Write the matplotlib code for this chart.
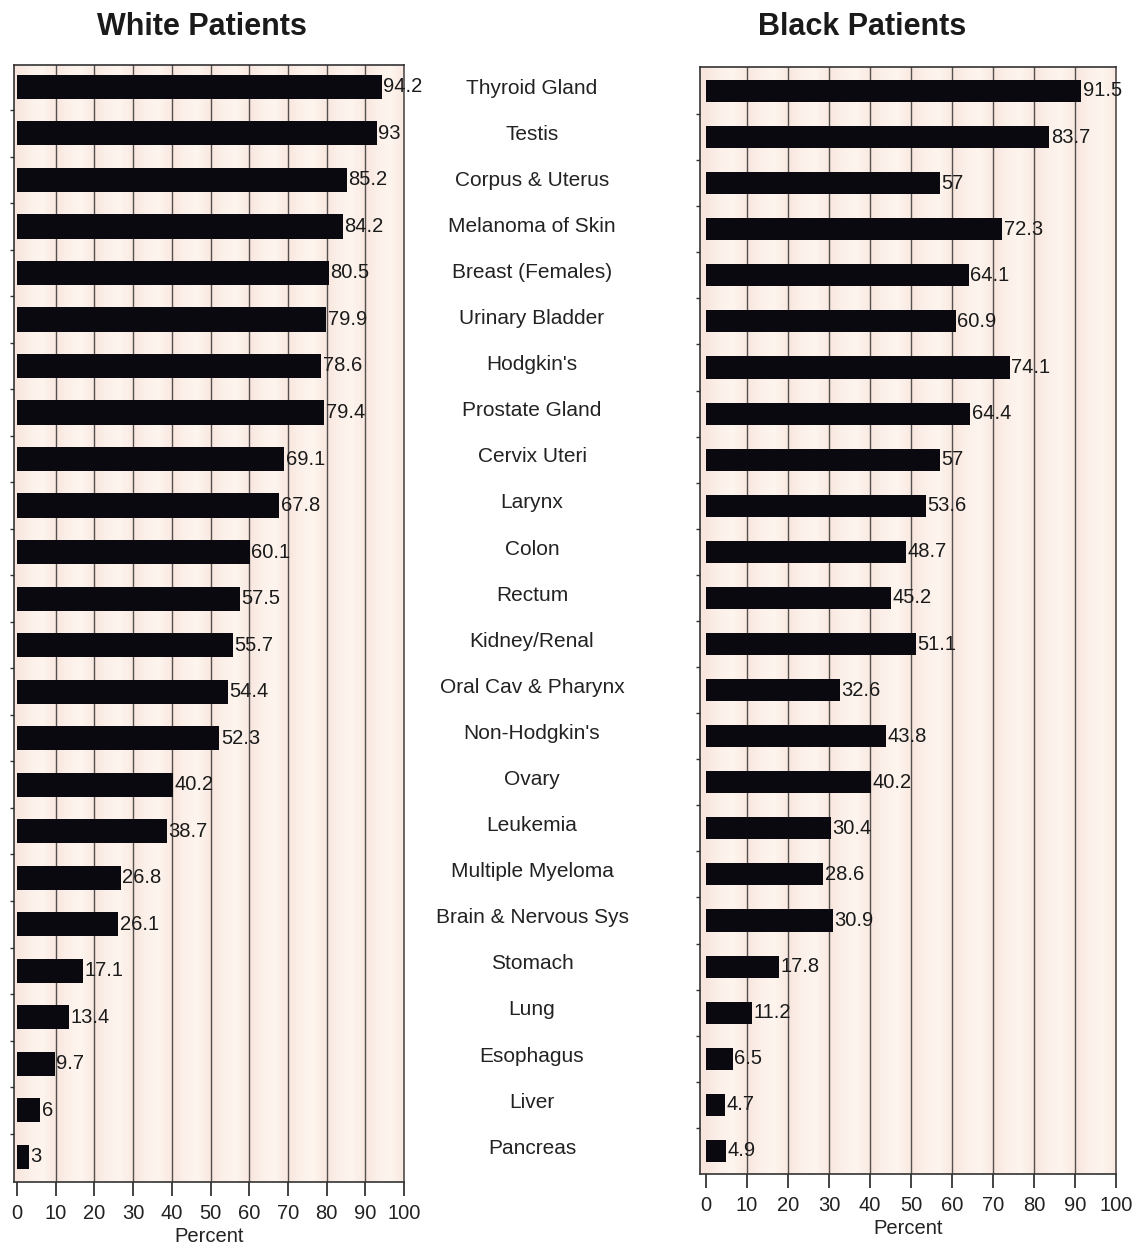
#!/usr/bin/env python3
"""Five-year relative survival by cancer site, white vs black patients."""

import matplotlib

matplotlib.use("Agg")
import matplotlib.pyplot as plt
import numpy as np
from matplotlib.colors import LinearSegmentedColormap
from matplotlib.transforms import blended_transform_factory

plt.rcParams["font.family"] = ["Liberation Sans", "DejaVu Sans"]

SITES = [
    "Thyroid Gland", "Testis", "Corpus & Uterus", "Melanoma of Skin",
    "Breast (Females)", "Urinary Bladder", "Hodgkin's", "Prostate Gland",
    "Cervix Uteri", "Larynx", "Colon", "Rectum", "Kidney/Renal",
    "Oral Cav & Pharynx", "Non-Hodgkin's", "Ovary", "Leukemia",
    "Multiple Myeloma", "Brain & Nervous Sys", "Stomach", "Lung",
    "Esophagus", "Liver", "Pancreas",
]
WHITE = [94.2, 93, 85.2, 84.2, 80.5, 79.9, 78.6, 79.4, 69.1, 67.8, 60.1, 57.5,
         55.7, 54.4, 52.3, 40.2, 38.7, 26.8, 26.1, 17.1, 13.4, 9.7, 6, 3]
BLACK = [91.5, 83.7, 57, 72.3, 64.1, 60.9, 74.1, 64.4, 57, 53.6, 48.7, 45.2,
         51.1, 32.6, 43.8, 40.2, 30.4, 28.6, 30.9, 17.8, 11.2, 6.5, 4.7, 4.9]
XTICKS = list(range(0, 101, 10))

W, H = 1138, 1252
BAR_COLOR = "#09090f"
GRID_COLOR = "#555050"
stripe_cmap = LinearSegmentedColormap.from_list(
    "stripe", ["#f8e6de", "#fcf1ea", "#fdf5ee", "#f9e9e1"])


def fmt(v):
    return f"{v:g}"


def draw_panel(ax, values, xmin, ylim, bar_h):
    n = len(values)
    # shaded stripes, one soft gradient per 10-point cell
    xs = np.linspace(0, 100, 1000)
    frac = (xs % 10) / 10
    ax.imshow(frac[np.newaxis, :], cmap=stripe_cmap, aspect="auto",
              extent=(0, 100, ylim[0], ylim[1]), zorder=0,
              interpolation="bilinear")
    ax.axvspan(xmin, 0, color="#f8e6de", zorder=0, lw=0)
    for x in XTICKS[1:]:
        ax.axvline(x, color=GRID_COLOR, lw=1.0, zorder=1)

    y = np.arange(n)
    ax.barh(y, values, height=bar_h, color=BAR_COLOR, zorder=2)
    for yi, v in zip(y, values):
        ax.text(v + 0.4, yi, fmt(v), va="center", ha="left",
                fontsize=14.5, color="#1a1a1a", zorder=3)

    ax.set_xlim(xmin, 100)
    ax.set_ylim(*ylim)
    ax.set_xticks(XTICKS)
    ax.set_yticks(y[:-1] + 0.5)
    ax.set_yticklabels([])
    ax.tick_params(axis="x", direction="out", length=10, width=1.2,
                   labelsize=14.5, pad=6, colors="#222222")
    ax.tick_params(axis="y", direction="out", length=3, width=1,
                   colors="#333333")
    ax.set_xlabel("Percent", fontsize=14.5, labelpad=3, color="#222222")
    for side, sp in ax.spines.items():
        sp.set_color("#333333" if side in ("left", "bottom", "top") else GRID_COLOR)
        sp.set_linewidth(1.2)


fig = plt.figure(figsize=(W / 100, H / 100), dpi=100)

ax_w = fig.add_axes([14 / W, 1 - 1182 / H, 390 / W, 1117 / H])
draw_panel(ax_w, WHITE, -0.8, (23.54, -0.47), 0.52)

ax_b = fig.add_axes([700 / W, 1 - 1174 / H, 416 / W, 1107 / H])
draw_panel(ax_b, BLACK, -1.46, (23.5, -0.52), 0.48)

fig.text(202 / W, 1 - 27 / H, "White Patients", ha="center", va="center",
         fontsize=22, fontweight="bold", color="#1a1a1a")
fig.text(862 / W, 1 - 27 / H, "Black Patients", ha="center", va="center",
         fontsize=22, fontweight="bold", color="#1a1a1a")

# site names sit between the two panels, aligned with the bar rows
label_tr = blended_transform_factory(fig.transFigure, ax_b.transData)
for i, site in enumerate(SITES):
    ax_b.text(532 / W, i - 0.06, site, transform=label_tr, ha="center",
              va="center", fontsize=15, color="#222222")

fig.savefig("out.png", dpi=100)
